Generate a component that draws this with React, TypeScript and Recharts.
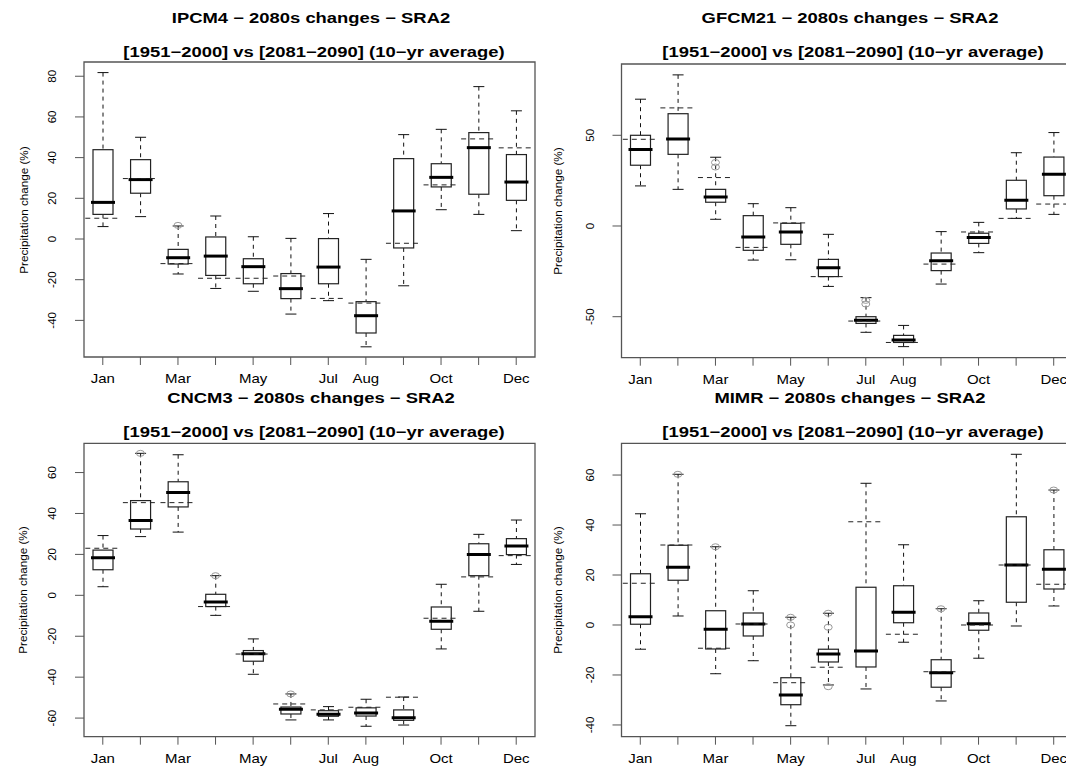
import React from 'react';
import { ComposedChart, Bar, Scatter, XAxis, YAxis, ReferenceArea } from 'recharts';

const months = ['Jan', 'Feb', 'Mar', 'Apr', 'May', 'Jun', 'Jul', 'Aug', 'Sep', 'Oct', 'Nov', 'Dec'];
const monthNums = [1, 2, 3, 4, 5, 6, 7, 8, 9, 10, 11, 12];
// R drops the labels that would overlap
const tickLabels = ['Jan', '', 'Mar', '', 'May', '', 'Jul', 'Aug', '', 'Oct', '', 'Dec'];

const subtitle = '[1951\u22122000] vs [2081\u22122090] (10\u2212yr average)';
const yTitle = 'Precipitation change (%)';

// IPCM4
const ipcm4Low = [6.1, 11, -17.2, -24.3, -25.7, -36.9, -30.3, -53, -23, 14.4, 12.1, 4.1];
const ipcm4Q1 = [12.1, 22.5, -12.3, -17.9, -22, -29.3, -22, -46.2, -4.4, 25.6, 22, 19];
const ipcm4Med = [18, 29.2, -9.2, -8.4, -13.6, -24.4, -13.8, -37.7, 13.8, 30.3, 44.9, 28];
const ipcm4Q3 = [43.9, 39, -5.1, 1, -9.7, -17, 0.2, -30.8, 39.5, 37, 52.3, 41.5];
const ipcm4High = [81.8, 50, 6.4, 11.3, 1.1, 0.3, 12.5, -10, 51.3, 53.9, 74.9, 63];
const ipcm4Ref = [10.2, 29.7, -12.1, -19.3, -19.3, -18.2, -29.2, -31.5, -2.1, 26.6, 49.2, 44.8];
const ipcm4OutMonth = [3];
const ipcm4OutValue = [6.7];

// GFCM21
const gfcm21Low = [22.1, 20.2, 3.7, -18.8, -18.6, -33.3, -58.6, -66.5, -32, -14.7, 4.2, 6.4];
const gfcm21Q1 = [33.5, 39.5, 13.1, -13.4, -10.1, -27.9, -53.7, -64.2, -24.6, -9.6, 9.4, 16.7];
const gfcm21Med = [42.1, 48, 16, -6.1, -3.3, -23, -52, -62.9, -19.1, -6.3, 14.2, 28.5];
const gfcm21Q3 = [50, 61.9, 20.2, 5.7, 1.5, -18.4, -50, -60.3, -14.9, -4, 25.2, 38];
const gfcm21High = [69.9, 83.3, 37.9, 12.3, 10.1, -4.6, -39.5, -54.8, -3.1, 2, 40.4, 51.5];
const gfcm21Ref = [47.8, 65.1, 26.7, -11.8, 1.7, -27.9, -52.4, -64.2, -21, -3.3, 4.2, 12.1];
const gfcm21OutMonth = [3, 3, 7, 7];
const gfcm21OutValue = [35, 32.5, -41, -43];

// CNCM3
const cncm3Low = [4.2, 28.7, 30.9, -9.8, -38.6, -60.9, -60.9, -64, -63.4, -26.2, -7.8, 15.1];
const cncm3Q1 = [12.5, 32.4, 43.2, -5.5, -32.2, -58, -59.1, -59, -61.1, -16.6, 9.6, 19.9];
const cncm3Med = [18.4, 36.6, 50.2, -3.3, -28.5, -55.7, -58.1, -57.5, -59.8, -12.7, 19.9, 24.1];
const cncm3Q3 = [22.1, 46.3, 55.5, 0.5, -27, -54.6, -56.4, -55, -56, -5.7, 25.2, 27.7];
const cncm3High = [29.2, 69.4, 68.7, 9.6, -21.3, -48.2, -54.4, -50.8, -49.7, 5.4, 29.8, 36.8];
const cncm3Ref = [23, 45.3, 45.3, -5.5, -28.7, -53.1, -56, -54.7, -49.8, -11.2, 9, 19.4];
const cncm3OutMonth = [2, 4, 6];
const cncm3OutValue = [69.4, 9.6, -48.2];

// MIMR
const mimrLow = [-9.7, 3.6, -19.5, -14.3, -40.3, -24, -25.6, -6.9, -30.4, -13.3, -0.4, 7.6];
const mimrQ1 = [0.3, 17.9, -9.6, -4.4, -31.9, -14.8, -16.8, 0.9, -24.9, -2.1, 9.1, 14.4];
const mimrMed = [3.3, 23.1, -1.7, 0.4, -28, -11.6, -10.4, 5.1, -19.1, 0.5, 24, 22.3];
const mimrQ3 = [20.5, 31.9, 5.7, 4.8, -21.1, -9.7, 15.1, 15.7, -13.9, 4.8, 43.3, 30.1];
const mimrHigh = [44.5, 60.3, 31.3, 13.7, 3.1, 4.7, 56.7, 32.1, 6.5, 9.7, 68.3, 54];
const mimrRef = [16.7, 32, -9.3, 0.4, -23.1, -16.9, 41.3, -3.7, -18.7, 0, 24, 16.3];
const mimrOutMonth = [2, 3, 5, 5, 6, 6, 6, 9, 12];
const mimrOutValue = [60.3, 31.3, 3.1, 0, 4.7, -0.9, -24.7, 6.5, 54];

function buildRows(low: number[], q1: number[], med: number[], q3: number[], high: number[], ref: number[]) {
  return months.map((name, i) => ({
    name,
    m: i + 1,
    low: low[i],
    q1: q1[i],
    med: med[i],
    q3: q3[i],
    high: high[i],
    range: [low[i], high[i]],
    ref: ref[i],
  }));
}

function buildOutliers(ms: number[], vs: number[]) {
  return ms.map((m, i) => ({ m, v: vs[i] }));
}

const panels = [
  {
    id: 'ipcm4',
    title: 'IPCM4 \u2212 2080s changes \u2212 SRA2',
    rows: buildRows(ipcm4Low, ipcm4Q1, ipcm4Med, ipcm4Q3, ipcm4High, ipcm4Ref),
    outliers: buildOutliers(ipcm4OutMonth, ipcm4OutValue),
    domain: [-58, 87],
    ticks: [-40, -20, 0, 20, 40, 60, 80],
    left: 0, top: 0, marginTop: 62, axisW: 84, marginRight: 25, axisH: 33,
    titleX: 311, titleY: 17.5, subX: 314, subY: 51.7, yTitleX: 24, yTitleY: 210,
  },
  {
    id: 'gfcm21',
    title: 'GFCM21 \u2212 2080s changes \u2212 SRA2',
    rows: buildRows(gfcm21Low, gfcm21Q1, gfcm21Med, gfcm21Q3, gfcm21High, gfcm21Ref),
    outliers: buildOutliers(gfcm21OutMonth, gfcm21OutValue),
    domain: [-72.6, 89.3],
    ticks: [-50, 0, 50],
    left: 530, top: 0, marginTop: 64, axisW: 91.5, marginRight: 17.5, axisH: 32.3,
    titleX: 850, titleY: 17.5, subX: 852.8, subY: 51.7, yTitleX: 558, yTitleY: 211,
  },
  {
    id: 'cncm3',
    title: 'CNCM3 \u2212 2080s changes \u2212 SRA2',
    rows: buildRows(cncm3Low, cncm3Q1, cncm3Med, cncm3Q3, cncm3High, cncm3Ref),
    outliers: buildOutliers(cncm3OutMonth, cncm3OutValue),
    domain: [-69.1, 74.3],
    ticks: [-60, -40, -20, 0, 20, 40, 60],
    left: 0, top: 385, marginTop: 58.3, axisW: 84, marginRight: 25, axisH: 38.3,
    titleX: 310.7, titleY: 398.3, subX: 314, subY: 431.7, yTitleX: 22.5, yTitleY: 590,
  },
  {
    id: 'mimr',
    title: 'MIMR \u2212 2080s changes \u2212 SRA2',
    rows: buildRows(mimrLow, mimrQ1, mimrMed, mimrQ3, mimrHigh, mimrRef),
    outliers: buildOutliers(mimrOutMonth, mimrOutValue),
    domain: [-44.7, 72.7],
    ticks: [-40, -20, 0, 20, 40, 60],
    left: 530, top: 385, marginTop: 58.3, axisW: 91.5, marginRight: 17.5, axisH: 38.3,
    titleX: 850, titleY: 398.3, subX: 852.8, subY: 431.7, yTitleX: 557.5, yTitleY: 590,
  },
];

// whisker + box + median, placed from the bar's own [low, high] pixel span
function renderBox(props: any) {
  const { x, y, width, height, payload } = props;
  if (payload == null || width == null) return <g />;
  const { low, q1, med, q3, high } = payload;
  const top = Math.min(y, y + height);
  const span = Math.abs(height);
  const toY = (v: number) => top + ((high - v) / (high - low)) * span;
  const cx = x + width / 2;
  const cap = 5.5;
  const yHigh = toY(high);
  const yLow = toY(low);
  const yQ3 = toY(q3);
  const yQ1 = toY(q1);
  const yMed = toY(med);
  return (
    <g>
      <line x1={cx} x2={cx} y1={yHigh} y2={yQ3} stroke="#111" strokeDasharray="4 4" />
      <line x1={cx} x2={cx} y1={yQ1} y2={yLow} stroke="#111" strokeDasharray="4 4" />
      <line x1={cx - cap} x2={cx + cap} y1={yHigh} y2={yHigh} stroke="#111" />
      <line x1={cx - cap} x2={cx + cap} y1={yLow} y2={yLow} stroke="#111" />
      <rect x={x} y={yQ3} width={width} height={yQ1 - yQ3} fill="#fff" stroke="#222" strokeWidth={1.2} />
      <line x1={x - 2} x2={x + width + 2} y1={yMed} y2={yMed} stroke="#000" strokeWidth={3} />
    </g>
  );
}

function renderRef(props: any) {
  const { cx, cy } = props;
  if (cx == null || cy == null) return <g />;
  return <line x1={cx - 17.5} x2={cx + 17.5} y1={cy} y2={cy} stroke="#222" strokeDasharray="5 4" />;
}

function renderOutlier(props: any) {
  const { cx, cy } = props;
  if (cx == null || cy == null) return <g />;
  return <ellipse cx={cx} cy={cy} rx={4} ry={3} fill="none" stroke="#999" strokeWidth={1} />;
}

function monthTick(props: any) {
  const { x, y, payload } = props;
  const label = tickLabels[payload.value - 1] || '';
  return (
    <text
      x={0}
      y={0}
      transform={`translate(${x},${y + 18}) scale(1.2,1)`}
      textAnchor="middle"
      fontSize={12.5}
      fill="#000"
    >
      {label}
    </text>
  );
}

function valueTick(props: any) {
  const { x, y, payload } = props;
  return (
    <text
      x={0}
      y={0}
      transform={`translate(${x - 19},${y}) rotate(-90)`}
      textAnchor="middle"
      fontSize={11.5}
      fill="#000"
    >
      {payload.value}
    </text>
  );
}

function BoxPanel({ p }: { p: (typeof panels)[number] }) {
  return (
    <div style={{ position: 'absolute', left: p.left, top: p.top }}>
      <ComposedChart
        width={560}
        height={390}
        data={p.rows}
        margin={{ top: p.marginTop, right: p.marginRight, bottom: 0, left: 0 }}
      >
        <XAxis
          type="number"
          dataKey="m"
          domain={[0.5, 12.5]}
          ticks={monthNums}
          interval={0}
          allowDataOverflow
          axisLine={false}
          tickLine={{ stroke: '#555' }}
          tickSize={8}
          tickMargin={0}
          height={p.axisH}
          tick={monthTick}
        />
        <YAxis
          type="number"
          domain={p.domain}
          ticks={p.ticks}
          allowDataOverflow
          axisLine={false}
          tickLine={{ stroke: '#555' }}
          tickSize={9}
          tickMargin={0}
          width={p.axisW}
          tick={valueTick}
        />
        <ReferenceArea
          x1={0.5}
          x2={12.5}
          y1={p.domain[0]}
          y2={p.domain[1]}
          fill="none"
          fillOpacity={0}
          stroke="#555"
          strokeWidth={1.3}
          ifOverflow="visible"
        />
        <Bar dataKey="range" barSize={20} shape={renderBox} isAnimationActive={false} />
        <Scatter dataKey="ref" shape={renderRef} isAnimationActive={false} />
        <Scatter data={p.outliers} dataKey="v" shape={renderOutlier} isAnimationActive={false} />
      </ComposedChart>
    </div>
  );
}

const centered: React.CSSProperties = {
  position: 'absolute',
  whiteSpace: 'nowrap',
  color: '#000',
  lineHeight: 1,
};

export default function App() {
  return (
    <div
      style={{
        position: 'absolute',
        left: 0,
        top: 0,
        width: 1066,
        height: 767,
        overflow: 'hidden',
        background: '#fff',
        fontFamily: '"Liberation Sans", Arial, Helvetica, sans-serif',
      }}
    >
      {panels.map((p) => (
        <BoxPanel key={p.id} p={p} />
      ))}
      {panels.map((p) => (
        <React.Fragment key={p.id + '-text'}>
          <div
            style={{
              ...centered,
              left: p.titleX,
              top: p.titleY,
              fontSize: 14.5,
              fontWeight: 'bold',
              transform: 'translate(-50%, -50%) scaleX(1.27)',
            }}
          >
            {p.title}
          </div>
          <div
            style={{
              ...centered,
              left: p.subX,
              top: p.subY,
              fontSize: 14.5,
              fontWeight: 'bold',
              transform: 'translate(-50%, -50%) scaleX(1.27)',
            }}
          >
            {subtitle}
          </div>
          <div
            style={{
              ...centered,
              left: p.yTitleX,
              top: p.yTitleY,
              fontSize: 11.7,
              transform: 'translate(-50%, -50%) rotate(-90deg)',
            }}
          >
            {yTitle}
          </div>
        </React.Fragment>
      ))}
    </div>
  );
}
